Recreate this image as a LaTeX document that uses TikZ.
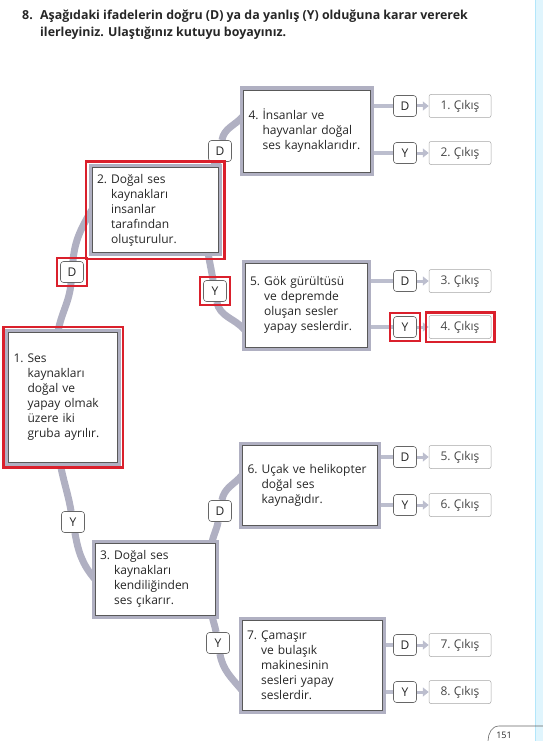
\documentclass[tikz,border=0pt]{standalone}
\usepackage{fontspec}
\setmainfont{Open Sans}
\usetikzlibrary{arrows.meta}
\usetikzlibrary{fit,backgrounds}

\definecolor{branchgray}{RGB}{176,176,194}
\definecolor{stubgray}{RGB}{188,190,206}
\definecolor{markred}{RGB}{218,32,44}
\definecolor{inkgray}{RGB}{38,38,38}
\tikzset{
  qbox/.style={draw=black!65, line width=.5pt, fill=white, align=left, inner xsep=5pt, inner ysep=4pt,
    text=inkgray, font=\fontsize{12}{15}\selectfont, preaction={draw=branchgray, line width=7pt}},
  dy/.style={draw=black!60, fill=white, rounded corners=3pt, line width=.6pt, minimum width=23pt,
    minimum height=21pt, inner sep=0pt, font=\fontsize{12}{14}\selectfont, text=inkgray},
  exitbox/.style={draw=black!35, fill=white, rounded corners=2pt, line width=.5pt, minimum width=62pt,
    minimum height=23pt, inner sep=0pt, font=\fontsize{12}{14}\selectfont, text=inkgray!85},
  branch/.style={draw=branchgray, line width=7pt},
  stub/.style={draw=stubgray, line width=4pt},
  exitarrow/.style={draw=stubgray, line width=3pt, -{Triangle[length=6pt,width=9pt]}},
  redmark/.style={draw=markred, line width=2.5pt, inner sep=4pt},
}
\newcommand{\gap}{\hphantom{0.~}}

\begin{document}
\begin{tikzpicture}[x=1pt,y=-1pt]
\useasboundingbox (0,0) rectangle (543,741);
\fill[cyan!12] (535,0) rectangle (543,741);
\draw[cyan!30, line width=.4pt] (535,0) -- (535,741);

\node[anchor=north west, inner sep=0pt, align=left, text=inkgray,
  font=\bfseries\fontsize{12.4}{17}\selectfont] (title) at (22,10)
  {\makebox[18pt][l]{8.}Aşağıdaki ifadelerin doğru (D) ya da yanlış (Y) olduğuna karar vererek\\
   \hspace*{18pt}ilerleyiniz. Ulaştığınız kutuyu boyayınız.};

% soru kutulari
\node[qbox, minimum width=109pt, minimum height=130pt, text width=99pt] (b1) at (63,397)
  {1.~Ses\\\gap kaynakları\\\gap doğal ve\\\gap yapay olmak\\\gap üzere iki\\\gap gruba ayrılır.\\[8pt]};
\node[qbox, minimum width=126pt, minimum height=85pt, text width=116pt] (b2) at (155,210)
  {2.~Doğal ses\\\gap kaynakları\\\gap insanlar\\\gap tarafından\\\gap oluşturulur.};
\node[qbox, minimum width=120pt, minimum height=72pt, text width=110pt] (b3) at (155,579)
  {3.~Doğal ses\\\gap kaynakları\\\gap kendiliğinden\\\gap ses çıkarır.};
\node[qbox, minimum width=127pt, minimum height=82pt, text width=117pt] (b4) at (307,131)
  {4.~İnsanlar ve\\\gap hayvanlar doğal\\\gap ses kaynaklarıdır.};
\node[qbox, minimum width=122pt, minimum height=84pt, text width=112pt] (b5) at (306,305)
  {5.~Gök gürültüsü\\\gap ve depremde\\\gap oluşan sesler\\\gap yapay seslerdir.};
\node[qbox, minimum width=135pt, minimum height=80pt, text width=125pt] (b6) at (310,485)
  {6.~Uçak ve helikopter\\\gap doğal ses\\\gap kaynağıdır.};
\node[qbox, minimum width=140pt, minimum height=90pt, text width=130pt] (b7) at (312,665)
  {7.~Çamaşır\\\gap ve bulaşık\\\gap makinesinin\\\gap sesleri yapay\\\gap seslerdir.};

% D / Y dallari
\node[dy] (l12) at (72,272) {D};
\node[dy] (l13) at (73,522) {Y};
\node[dy] (l24) at (220,151) {D};
\node[dy] (l25) at (215,291) {Y};
\node[dy] (l36) at (220,511) {D};
\node[dy] (l37) at (218,643) {Y};

\begin{scope}[on background layer]
\draw[branch] ([xshift=-5pt]b1.north) to[out=80,in=-95] (l12) to[out=85,in=-120] (b2.west);
\draw[branch] ([xshift=-3pt]b1.south) to[out=-80,in=100] (l13) to[out=-80,in=130] (b3.west);
\draw[branch] ([xshift=58pt]b2.north) to[out=80,in=-100] (l24) to[out=80,in=-130] ([yshift=15pt]b4.west);
\draw[branch] ([xshift=53pt]b2.south) to[out=-80,in=100] (l25) to[out=-80,in=130] ([yshift=-25pt]b5.west);
\draw[branch] ([xshift=57pt]b3.north) to[out=80,in=-100] (l36) to[out=80,in=-130] ([yshift=10pt]b6.west);
\draw[branch] ([xshift=57pt]b3.south) to[out=-80,in=100] (l37) to[out=-80,in=130] ([yshift=-25pt]b7.west);
\end{scope}

% cikislar
\foreach \n/\y/\a/\b in {1/106/D/b4, 2/153/Y/b4, 3/281/D/b5, 4/327/Y/b5,
                         5/457/D/b6, 6/505/Y/b6, 7/645/D/b7, 8/692/Y/b7} {
  \node[dy] (r\n) at (405,\y) {\a};
  \node[exitbox] (x\n) at (460,\y) {\n.~Çıkış};
  \draw[exitarrow] (r\n) -- (x\n);
  \begin{scope}[on background layer]
    \draw[stub] (\b.east |- r\n) -- (r\n);
  \end{scope}
}

% isaretlenen yol
\node[redmark, fit=(b1), inner sep=5pt] (m1) {};
\node[redmark, fit=(b2), inner sep=6pt] (m2) {};
\node[redmark, fit=(l12), inner sep=3pt] (m3) {};
\node[redmark, fit=(l25), inner sep=3pt] (m4) {};
\node[redmark, fit=(r4), inner sep=3pt] (m5) {};
\node[redmark, fit=(x4), inner sep=3pt] (m6) {};

\draw[black!60, line width=.6pt] (488,741) to[out=90,in=180] (499,726) -- (543,726);
\node[font=\fontsize{9}{10}\selectfont, text=inkgray] (pnum) at (504,735) {151};
\end{tikzpicture}
\end{document}
